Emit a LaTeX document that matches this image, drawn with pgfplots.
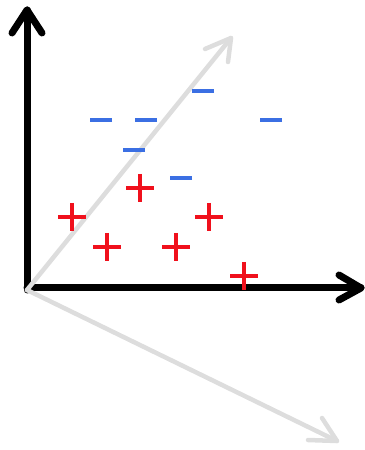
\documentclass[border=0pt]{standalone}
\usepackage{pgfplots}
\pgfplotsset{compat=1.18}
\definecolor{arrgray}{HTML}{DDDDDD}
\definecolor{mred}{HTML}{F0101C}
\definecolor{mblue}{HTML}{3B6FE3}
\begin{document}
\begin{tikzpicture}
\begin{axis}[hide axis, scale only axis, width=364bp, height=450bp,
  xmin=0, xmax=364, ymin=0, ymax=450, clip=false]
% black axes
\addplot[black, line width=7bp, line cap=round, line join=round, no marks] coordinates {(27,160) (27,440)};
\addplot[black, line width=7bp, line cap=round, line join=round, no marks] coordinates {(12,417) (27,440) (42,417)};
\addplot[black, line width=7bp, line cap=round, line join=round, no marks] coordinates {(27,162) (361,162)};
\addplot[black, line width=7bp, line cap=round, line join=round, no marks] coordinates {(339,175) (361,162) (339,150)};
% gray arrows
\addplot[arrgray, line width=4.5bp, line cap=round, line join=round, no marks] coordinates {(27,160) (231,412)};
\addplot[arrgray, line width=4.5bp, line cap=round, line join=round, no marks] coordinates {(205,401) (231,412) (228,388)};
\addplot[arrgray, line width=4.5bp, line cap=round, line join=round, no marks] coordinates {(27,160) (337,9)};
\addplot[arrgray, line width=4.5bp, line cap=round, line join=round, no marks] coordinates {(308,10) (337,9) (322,32)};
% red plus
\addplot[only marks, mark=+, mark size=14bp, mark options={mred, line width=4.8bp}] coordinates {
(140,262) (72,233) (209,233) (107,203) (176,203) (244,174)};
% blue minus
\addplot[only marks, mark=-, mark size=11bp, mark options={mblue, line width=3.5bp}] coordinates {
(203,359) (101,330) (146,330) (271,330) (134,300) (181,272)};
\end{axis}
\pgfresetboundingbox
\useasboundingbox (current axis.south west) rectangle (current axis.north east);
\end{tikzpicture}
\end{document}
